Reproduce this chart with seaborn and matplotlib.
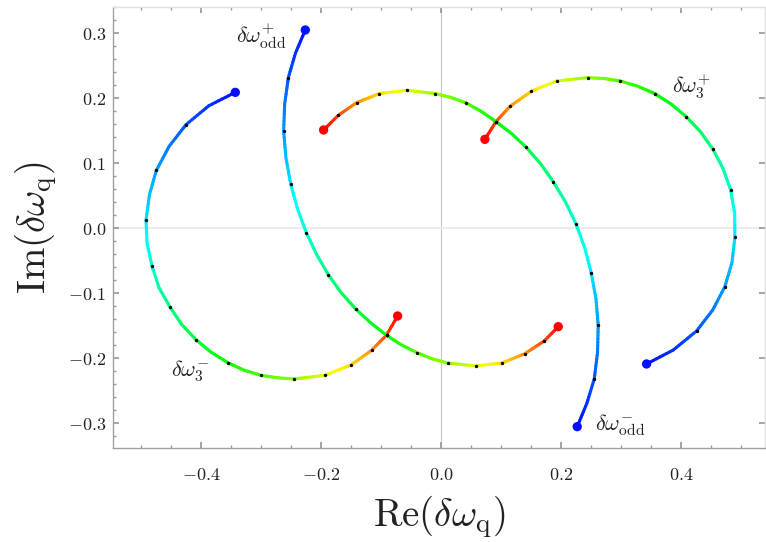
import numpy as np
import pandas as pd
import matplotlib
matplotlib.use("Agg")
import matplotlib.pyplot as plt
from matplotlib.collections import LineCollection
from matplotlib.ticker import MultipleLocator, FuncFormatter
import seaborn as sns

# curve parameter of every read point (integers = the black marks on the curves)
t_pts = [0, 1, 2, 3, 4, 5, 5.5, 6, 6.5, 7, 7.5, 8, 8.5, 9, 9.5, 10, 10.5, 11, 11.5, 12, 12.5, 13, 13.5, 14]

# branches, ordered from the red end to the blue end
re_3p = [0.0733, 0.0917, 0.115, 0.1506, 0.1928, 0.2444, 0.2718, 0.2989, 0.3283, 0.3567, 0.3840, 0.4089,
         0.4327, 0.4528, 0.4703, 0.4828, 0.4897, 0.49, 0.4853, 0.4733, 0.4530, 0.4261, 0.3872, 0.3428]
im_3p = [0.1364, 0.1636, 0.187, 0.2103, 0.2262, 0.2313, 0.2300, 0.2262, 0.2180, 0.2067, 0.1905, 0.1713,
         0.1480, 0.122, 0.0915, 0.059, 0.0226, -0.0144, -0.0528, -0.0903, -0.1263, -0.1585, -0.1878, -0.2092]

re_3m = [-0.0722, -0.0906, -0.1156, -0.15, -0.1939, -0.245, -0.2722, -0.3, -0.3289, -0.3544, -0.3836, -0.4078,
         -0.4322, -0.4517, -0.4700, -0.4817, -0.4900, -0.4917, -0.4857, -0.4744, -0.4530, -0.425, -0.3870, -0.3428]
im_3m = [-0.1354, -0.1646, -0.1882, -0.2108, -0.2267, -0.2323, -0.2305, -0.2267, -0.2185, -0.2077, -0.1908, -0.1723,
         -0.1484, -0.1215, -0.0918, -0.0585, -0.0230, 0.0123, 0.0520, 0.0887, 0.1258, 0.159, 0.1880, 0.2087]

re_om = [-0.1956, -0.1711, -0.1406, -0.1028, -0.0572, -0.0094, 0.0162, 0.0411, 0.0672, 0.0917, 0.118, 0.1422,
         0.1662, 0.1872, 0.2078, 0.225, 0.2398, 0.2506, 0.2585, 0.2622, 0.2611, 0.2556, 0.2433, 0.2272]
im_om = [0.1508, 0.1733, 0.1928, 0.2067, 0.2118, 0.2067, 0.2009, 0.1928, 0.1794, 0.1636, 0.1451, 0.1241,
         0.0988, 0.0713, 0.0398, 0.0067, -0.0308, -0.0692, -0.1092, -0.1497, -0.1912, -0.2323, -0.2697, -0.3056]

re_op = [0.1956, 0.1722, 0.14, 0.1017, 0.0583, 0.0111, -0.0150, -0.04, -0.0660, -0.0906, -0.1172, -0.1422,
         -0.1665, -0.1878, -0.2075, -0.2244, -0.2395, -0.2506, -0.2585, -0.2622, -0.2605, -0.2544, -0.2425, -0.2261]
im_op = [-0.1518, -0.1738, -0.1933, -0.2077, -0.2123, -0.2077, -0.2012, -0.1918, -0.1798, -0.1651, -0.1458, -0.1246,
         -0.0992, -0.0718, -0.0402, -0.0072, 0.0305, 0.0682, 0.1088, 0.1492, 0.1905, 0.2313, 0.2690, 0.3046]

names = [r"$\delta\omega_3^{+}$", r"$\delta\omega_3^{-}$",
         r"$\delta\omega_{\rm odd}^{-}$", r"$\delta\omega_{\rm odd}^{+}$"]
label_x = [0.417, -0.419, 0.298, -0.300]
label_y = [0.218, -0.221, -0.304, 0.295]

branches = [(re_3p, im_3p), (re_3m, im_3m), (re_om, im_om), (re_op, im_op)]

sns.set_theme(style="white")
plt.rcParams["mathtext.fontset"] = "cm"
plt.rcParams["font.family"] = ["DejaVu Serif"]

fig = plt.figure(figsize=(7.66, 5.42), dpi=100)
ax = fig.add_axes([0.1475, 0.1734, 0.851, 0.8137])

ax.axvline(0, color="#c6c6c6", lw=0.8, zorder=0)
ax.axhline(0, color="#ebebeb", lw=1.3, zorder=0)

cmap = plt.get_cmap("hsv")
t = np.array(t_pts, dtype=float)
hue = t / t.max() * 2 / 3
k = 8  # colour steps per chord, so the hue runs smoothly along the stroke
frac = np.linspace(0, 1, k + 1)

dots = []
ends = []
for (re, im), name, lx, ly in zip(branches, names, label_x, label_y):
    pts = np.column_stack([re, im])
    segs = []
    cols = []
    for i in range(len(pts) - 1):
        p = pts[i] + np.outer(frac, pts[i + 1] - pts[i])
        h = hue[i] + frac * (hue[i + 1] - hue[i])
        segs.extend(np.stack([p[:-1], p[1:]], axis=1))
        cols.extend(cmap((h[:-1] + h[1:]) / 2))
    lc = LineCollection(segs, colors=cols, linewidths=2.2, capstyle="round",
                        joinstyle="round", zorder=2)
    ax.add_collection(lc)
    mark = (t == np.round(t)) & (t > 0) & (t < t.max())
    dots.append(pd.DataFrame({"re": np.array(re)[mark], "im": np.array(im)[mark]}))
    ends.append(pd.DataFrame({"re": [re[0], re[-1]], "im": [im[0], im[-1]], "end": ["red", "blue"]}))
    ax.text(lx, ly, name, fontsize=16, ha="center", va="center", color="#222222")

dots = pd.concat(dots)
ends = pd.concat(ends)
sns.scatterplot(data=dots, x="re", y="im", color="black", s=6, linewidth=0, ax=ax, zorder=3)
sns.scatterplot(data=ends, x="re", y="im", hue="end", palette={"red": cmap(0.0), "blue": cmap(2 / 3)},
                s=45, linewidth=0, ax=ax, zorder=4, legend=False)

ax.set_xlim(-0.5467, 0.54)
ax.set_ylim(-0.3385, 0.34)
ax.xaxis.set_major_locator(MultipleLocator(0.2))
ax.xaxis.set_minor_locator(MultipleLocator(0.05))
ax.yaxis.set_major_locator(MultipleLocator(0.1))
ax.yaxis.set_minor_locator(MultipleLocator(0.02))
fmt = FuncFormatter(lambda v, p: "$%.1f$" % (0.0 if abs(v) < 1e-9 else v))
ax.xaxis.set_major_formatter(fmt)
ax.yaxis.set_major_formatter(fmt)
ax.tick_params(which="both", direction="in", colors="#999999", labelcolor="#222222",
               labelsize=13, top=True, bottom=True, left=True, right=False)
ax.tick_params(axis="y", which="major", right=True)
ax.tick_params(which="major", length=4)
ax.tick_params(which="minor", length=2.4)
ax.tick_params(axis="x", pad=13)
ax.tick_params(axis="y", pad=5)
for side in ["left", "bottom"]:
    ax.spines[side].set_color("#a0a0a0")
    ax.spines[side].set_linewidth(1.0)
for side in ["top", "right"]:
    ax.spines[side].set_color("#e0e0e0")
    ax.spines[side].set_linewidth(1.0)

ax.set_xlabel(r"$\mathrm{Re}(\delta\omega_{\mathrm{q}})$", fontsize=28, color="#222222", labelpad=7)
ax.set_ylabel(r"$\mathrm{Im}(\delta\omega_{\mathrm{q}})$", fontsize=28, color="#222222", labelpad=6)

fig.savefig("out.png", dpi=100)
